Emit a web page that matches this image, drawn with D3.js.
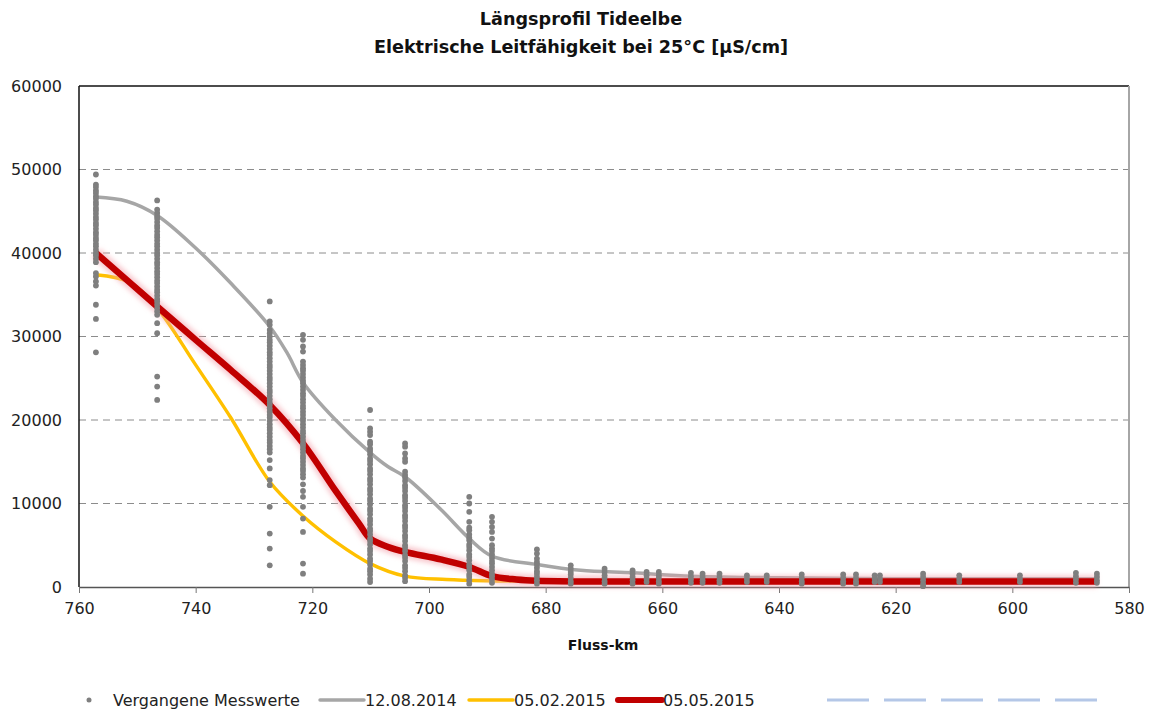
<!DOCTYPE html>
<html>
<head>
<meta charset="utf-8">
<script src="https://cdnjs.cloudflare.com/ajax/libs/d3/7.8.5/d3.min.js"></script>
<style>
  body { margin: 0; background: #fff; }
  svg { font-family: "DejaVu Sans", sans-serif; }
</style>
</head>
<body>
<div id="main"></div>
<script>
var titleLines = ["Längsprofil Tideelbe", "Elektrische Leitfähigkeit bei 25°C [µS/cm]"];
var xLabel = "Fluss-km";
var xTicks = [760, 740, 720, 700, 680, 660, 640, 620, 600, 580];
var yTicks = [0, 10000, 20000, 30000, 40000, 50000, 60000];

// past measurements: station km and the values measured there
var pastKm = [757.1, 746.6, 727.3, 721.6, 710.1, 704.1, 693.1, 689.2, 681.5, 675.7, 669.9, 665.1,
  662.7, 660.6, 655.1, 653.1, 650.2, 645.5, 642.1, 636.1, 629.0, 626.8, 623.6, 622.7, 615.3,
  609.1, 598.7, 589.1, 585.5];
var pastValues = [
  [49400, 48200, 47900, 47500, 47200, 46800, 46500, 46100, 45800, 45400, 45100, 44700, 44300, 44000,
    43600, 43300, 42900, 42500, 42200, 41800, 41500, 41100, 40800, 40400, 40000, 39700, 39300, 38900,
    37600, 37200, 36600, 36100, 33800, 32100, 28100],
  [46300, 45200, 44800, 44400, 44100, 43700, 43300, 43000, 42600, 42200, 41900, 41500, 41100, 40800,
    40400, 40000, 39700, 39300, 38900, 38600, 38200, 37800, 37500, 37100, 36700, 36400, 36000, 35600,
    35300, 34900, 34500, 34200, 33800, 33400, 33000, 32600, 31600, 30400, 25200, 24000, 22400],
  [34200, 31800, 31400, 30800, 30400, 30000, 29600, 29300, 28900, 28500, 28100, 27800, 27400, 27000,
    26600, 26300, 25900, 25500, 25100, 24800, 24400, 24000, 23600, 23300, 22900, 22500, 22100, 21800,
    21400, 21000, 20600, 20300, 19900, 19500, 19100, 18800, 18400, 18000, 17600, 17300, 16900, 16500,
    16100, 15200, 14200, 12800, 12200, 9600, 6400, 4600, 2600],
  [30200, 29600, 28800, 28200, 27000, 26600, 26200, 25900, 25500, 25100, 24700, 24400, 24000, 23600,
    23200, 22900, 22500, 22100, 21700, 21400, 21000, 20600, 20200, 19900, 19500, 19100, 18700, 18400,
    18000, 17600, 17200, 16900, 16500, 16100, 15700, 15400, 15000, 14600, 14200, 13900, 13500, 13100,
    12300, 11500, 10800, 9600, 8200, 6600, 2800, 1600],
  [21200, 19000, 18600, 18200, 17400, 17100, 16600, 16300, 15900, 15400, 15100, 14700, 14200, 13900,
    13500, 13000, 12700, 12300, 11800, 11500, 11100, 10600, 10300, 9900, 9400, 9100, 8700, 8200, 7900,
    7500, 7000, 6700, 6300, 5800, 5500, 5100, 4600, 4300, 3900, 3400, 3100, 2700, 2200, 1900, 1500,
    1000, 600],
  [17200, 16800, 16000, 15400, 15000, 13800, 13400, 13100, 12700, 12200, 11900, 11500, 11000, 10700,
    10300, 9800, 9500, 9100, 8600, 8300, 7900, 7400, 7100, 6700, 6200, 5900, 5500, 5000, 4700, 4300,
    3800, 3500, 3100, 2600, 2300, 1900, 1400, 1100, 700],
  [10800, 10000, 9000, 7800, 7100, 6800, 6300, 5900, 5600, 5100, 4800, 4400, 3900, 3600, 3200, 2700,
    2400, 2000, 1500, 1200, 800, 400],
  [8400, 7800, 7200, 6600, 5800, 5000, 4600, 4300, 3900, 3500, 3100, 2800, 2400, 2000, 1600, 1300,
    900, 500],
  [4500, 4000, 3400, 3000, 2700, 2300, 1900, 1600, 1200, 800, 400],
  [2600, 2200, 1800, 1500, 1100, 700, 400],
  [2200, 1800, 1400, 1100, 700, 400],
  [2000, 1600, 1200, 800, 400],
  [1800, 1400, 1000, 600],
  [1800, 1400, 1100, 700, 400],
  [1700, 1300, 900, 500],
  [1600, 1200, 800, 500],
  [1600, 1200, 800, 500],
  [1400, 1000, 600],
  [1400, 1000, 600],
  [1500, 1100, 700, 400],
  [1500, 1100, 700, 400],
  [1500, 1100, 700, 400],
  [1400, 1000, 600],
  [1400, 1000, 600],
  [1600, 1200, 800, 400, 100],
  [1400, 1000, 600],
  [1400, 1000, 600],
  [1700, 1300, 900, 500],
  [1600, 1200, 800, 500]
];

// profile of 12.08.2014
var augKm = [757.1, 751.8, 746.6, 740, 734, 727.3, 724.3, 721.6, 716, 710.1, 707, 704.1, 698, 693.1,
  689.2, 681.5, 674, 665, 655, 640, 620, 600, 585.5];
var augValues = [46700, 46200, 44500, 40600, 36400, 31200, 28000, 24500, 20000, 16100, 14400, 13200,
  9300, 5800, 3700, 2700, 2000, 1700, 1300, 1100, 1000, 1000, 1000];

// profile of 05.02.2015
var febKm = [757.1, 751.3, 746.6, 740, 734, 727.3, 721.6, 716, 710.1, 704.1, 697, 690, 680, 660, 640,
  620, 600, 585.5];
var febValues = [37400, 36500, 33400, 26600, 20300, 12600, 8500, 5400, 2800, 1300, 900, 750, 700, 650,
  650, 650, 650, 650];

// profile of 05.05.2015
var mayKm = [757.1, 746.6, 740, 734, 727.3, 721.6, 716, 712, 710.1, 707, 704.1, 698, 693.1, 689.2, 685,
  681.5, 670, 650, 630, 610, 585.5];
var mayValues = [40000, 33600, 29600, 26000, 21800, 17200, 11500, 7600, 5800, 4800, 4200, 3300, 2400,
  1300, 900, 750, 650, 650, 650, 650, 650];

var legendNames = ["Vergangene Messwerte", "12.08.2014", "05.02.2015", "05.05.2015"];

var width = 1154, height = 709;
var margin = { top: 86, right: 25, bottom: 122, left: 79 };

var x = d3.scaleLinear().domain([760, 580]).range([margin.left, width - margin.right]);
var y = d3.scaleLinear().domain([0, 60000]).range([height - margin.bottom, margin.top]);

var svg = d3.select("#main").append("svg")
  .attr("width", width)
  .attr("height", height);

var defs = svg.append("defs");
defs.append("filter").attr("id", "glow")
  .attr("x", "-5%").attr("y", "-20%").attr("width", "110%").attr("height", "140%")
  .append("feGaussianBlur").attr("stdDeviation", 2.4);

// title
svg.selectAll(".title")
  .data(titleLines)
  .enter().append("text")
  .attr("class", "title")
  .attr("x", 581)
  .attr("y", function(d, i) { return 25 + i * 28; })
  .attr("text-anchor", "middle")
  .style("font-weight", "bold")
  .style("font-size", "17.6px")
  .style("fill", "#111")
  .text(function(d) { return d; });

// grid
svg.append("g")
  .selectAll("line")
  .data(yTicks.filter(function(d) { return d > 0 && d < 60000; }))
  .enter().append("line")
  .attr("x1", x(760)).attr("x2", x(580))
  .attr("y1", function(d) { return y(d); })
  .attr("y2", function(d) { return y(d); })
  .attr("stroke", "#8c8c8c")
  .attr("stroke-width", 1)
  .attr("stroke-dasharray", "7,5");

// frame
svg.append("line").attr("x1", x(760)).attr("x2", x(580)).attr("y1", y(60000)).attr("y2", y(60000))
  .attr("stroke", "#111").attr("stroke-width", 1.5);
svg.append("line").attr("x1", x(580)).attr("x2", x(580)).attr("y1", y(60000)).attr("y2", y(0))
  .attr("stroke", "#a6a6a6").attr("stroke-width", 2);
svg.append("line").attr("x1", x(760)).attr("x2", x(760)).attr("y1", y(60000)).attr("y2", y(0))
  .attr("stroke", "#111").attr("stroke-width", 1.5);

// x axis
var xAxis = svg.append("g")
  .attr("transform", "translate(0," + y(0) + ")")
  .call(d3.axisBottom(x).tickValues(xTicks).tickSize(6).tickPadding(10).tickSizeOuter(0));
xAxis.select(".domain").attr("stroke", "#555").attr("stroke-width", 1.5);
xAxis.selectAll(".tick line").attr("stroke", "#777");
xAxis.selectAll(".tick text")
  .style("font-family", "DejaVu Sans, sans-serif")
  .style("font-size", "16px")
  .style("fill", "#222");

// y labels
svg.append("g")
  .selectAll("text")
  .data(yTicks)
  .enter().append("text")
  .attr("x", 62)
  .attr("y", function(d) { return y(d); })
  .attr("dy", ".35em")
  .attr("text-anchor", "end")
  .style("font-size", "16px")
  .style("fill", "#222")
  .text(function(d) { return d; });

svg.append("text")
  .attr("x", 603)
  .attr("y", 650)
  .attr("text-anchor", "middle")
  .style("font-weight", "bold")
  .style("font-size", "14px")
  .style("fill", "#111")
  .text(xLabel);

var line = d3.line()
  .x(function(d) { return x(d[0]); })
  .y(function(d) { return y(d[1]); })
  .curve(d3.curveCatmullRom.alpha(0.5));

var augData = d3.zip(augKm, augValues);
var febData = d3.zip(febKm, febValues);
var mayData = d3.zip(mayKm, mayValues);

svg.append("path").datum(augData)
  .attr("d", line).attr("fill", "none")
  .attr("stroke", "#a6a6a6").attr("stroke-width", 3.5);

svg.append("path").datum(febData)
  .attr("d", line).attr("fill", "none")
  .attr("stroke", "#ffc000").attr("stroke-width", 3.4);

svg.append("path").datum(mayData)
  .attr("d", line).attr("fill", "none")
  .attr("stroke", "#f4a3ae").attr("stroke-opacity", 0.6)
  .attr("stroke-width", 12)
  .attr("filter", "url(#glow)");

svg.append("path").datum(mayData)
  .attr("d", line).attr("fill", "none")
  .attr("stroke", "#c00000").attr("stroke-width", 6.5);

// past measurement dots
var dots = [];
pastKm.forEach(function(km, i) {
  pastValues[i].forEach(function(v) {
    dots.push({ km: km, value: v });
  });
});

svg.append("g")
  .selectAll("circle")
  .data(dots)
  .enter().append("circle")
  .attr("cx", function(d) { return x(d.km); })
  .attr("cy", function(d) { return y(d.value); })
  .attr("r", 2.9)
  .attr("fill", "#7f7f7f");

// legend
var legendY = 700;
var legend = svg.append("g");

legend.append("circle").attr("cx", 89).attr("cy", legendY).attr("r", 2.5).attr("fill", "#7f7f7f");
legend.append("text").attr("x", 113).attr("y", legendY).attr("dy", ".35em")
  .style("font-size", "16px").style("fill", "#222").text(legendNames[0]);

var legendColors = ["#a6a6a6", "#ffc000", "#c00000"];
var legendWidths = [3.4, 3.4, 6];
[1, 2, 3].forEach(function(k, i) {
  var x0 = 320 + i * 149;
  legend.append("line")
    .attr("x1", x0).attr("x2", x0 + 44)
    .attr("y1", legendY).attr("y2", legendY)
    .attr("stroke", legendColors[i])
    .attr("stroke-width", legendWidths[i])
    .attr("stroke-linecap", "round");
  legend.append("text").attr("x", x0 + 45).attr("y", legendY).attr("dy", ".35em")
    .style("font-size", "16px").style("fill", "#222").text(legendNames[k]);
});

legend.append("line")
  .attr("x1", 827).attr("x2", 1098)
  .attr("y1", legendY).attr("y2", legendY)
  .attr("stroke", "#b4c7e7")
  .attr("stroke-width", 3)
  .attr("stroke-dasharray", "42,15");
</script>
</body>
</html>
